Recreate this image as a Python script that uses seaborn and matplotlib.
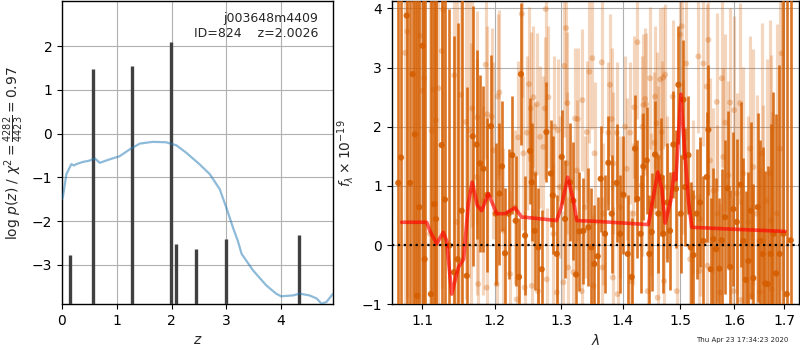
import matplotlib
matplotlib.use("Agg")
import matplotlib.pyplot as plt
import seaborn as sns
from matplotlib.ticker import FixedLocator, FixedFormatter, NullLocator

# ---------------- redshift panel ----------------
z_chi = [0.0, 0.02, 0.08, 0.17, 0.22, 0.26, 0.38, 0.5, 0.6, 0.69, 0.78, 0.87,
         1.05, 1.24, 1.42, 1.66, 1.9, 2.09, 2.27, 2.51, 2.7, 2.88, 3.0, 3.12,
         3.21, 3.28, 3.49, 3.73, 3.91, 4.0, 4.22, 4.34, 4.52, 4.65, 4.74,
         4.83, 4.95]
chi_scaled = [-1.5, -1.42, -0.93, -0.70, -0.73, -0.70, -0.65, -0.62, -0.57,
              -0.67, -0.63, -0.59, -0.52, -0.36, -0.23, -0.19, -0.20, -0.27,
              -0.44, -0.70, -0.93, -1.27, -1.69, -2.14, -2.45, -2.75, -3.13,
              -3.47, -3.66, -3.72, -3.70, -3.66, -3.70, -3.77, -3.89, -3.85,
              -3.66]

z_peaks = [0.15, 0.56, 1.27, 1.995, 2.08, 2.45, 3.0, 4.33]
logp_peaks = [-2.77, 1.48, 1.55, 2.10, -2.52, -2.64, -2.42, -2.33]

# ---------------- spectrum panel ----------------
lam_dark = [1.0687, 1.0722, 1.0796, 1.0839, 1.0873, 1.0903, 1.0933, 1.0960, 1.1004, 1.1031,
            1.1115, 1.1160, 1.1183, 1.1259, 1.1304, 1.1363, 1.1427, 1.1478, 1.1533, 1.1603,
            1.1687, 1.1743, 1.1790, 1.1838, 1.1895, 1.1947, 1.2015, 1.2068, 1.2106, 1.2150,
            1.2203, 1.2257, 1.2307, 1.2356, 1.2386, 1.2446, 1.2521, 1.2546, 1.2591, 1.2647,
            1.2698, 1.2770, 1.2836, 1.2867, 1.2929, 1.3007, 1.3059, 1.3138, 1.3190, 1.3233,
            1.3286, 1.3350, 1.3431, 1.3474, 1.3528, 1.3582, 1.3631, 1.3702, 1.3757, 1.3812,
            1.3895, 1.3951, 1.4007, 1.4081, 1.4148, 1.4205, 1.4245, 1.4302, 1.4348, 1.4406,
            1.4452, 1.4493, 1.4551, 1.4609, 1.4656, 1.4697, 1.4768, 1.4815, 1.4875, 1.4923,
            1.4965, 1.5007, 1.5055, 1.5085, 1.5146, 1.5188, 1.5237, 1.5298, 1.5359, 1.5421,
            1.5483, 1.5514, 1.5558, 1.5608, 1.5658, 1.5721, 1.5765, 1.5828, 1.5879, 1.5923,
            1.5988, 1.6052, 1.6129, 1.6180, 1.6232, 1.6278, 1.6323, 1.6376, 1.6461, 1.6508,
            1.6562, 1.6608, 1.6661, 1.6722, 1.6775, 1.6829, 1.6897, 1.6978, 1.7046, 1.7128]
flux_dark = [1.05, 1.48, 3.88, 1.05, 2.89, 1.87, -0.86, 0.64, 3.37, -0.24,
             -0.83, 0.69, 0.44, 1.69, 0.77, -0.01, -0.46, -0.24, 0.58, -0.52,
             1.84, 1.70, 1.38, 1.29, 0.85, 2.01, 0.53, 0.87, 1.33, -0.14,
             0.53, 1.52, 0.41, -0.54, 2.89, 0.16, 1.59, 1.06, 0.24, -0.04,
             -0.41, 1.91, 1.21, 0.84, -0.15, 1.49, 0.44, 1.06, 0.75, -0.50,
             0.23, 0.24, 0.30, -0.04, -0.32, -0.19, 1.12, 0.19, 1.39, 0.53,
             1.05, 0.19, 0.85, -0.15, -0.54, 1.63, 0.78, 0.19, 1.33, 1.43,
             -0.15, 0.22, 1.53, 0.53, 1.15, 0.19, 0.72, 0.24, 1.70, 0.95,
             2.71, 0.53, 2.46, 0.98, 1.52, -0.04, -0.17, 0.53, 0.72, 0.07,
             1.15, 1.95, -0.41, 0.10, -0.07, -0.40, 0.08, 0.47, 0.96, -0.37,
             0.61, 0.39, 1.02, 0.07, -0.59, -0.27, 0.58, -0.56, 0.64, 0.07,
             -0.15, -0.65, -0.66, -0.15, 0.19, -0.48, -0.15, 0.19, -0.83, 0.08]
err_dark = [5.0, 5.0, 5.0, 5.0, 5.0, 4.5, 5.0, 5.0, 5.0, 5.0,
            5.0, 4.5, 4.5, 4.0, 4.0, 4.0, 4.0, 4.0, 3.8, 3.2,
            2.2, 1.6, 1.5, 1.4, 1.3, 1.2, 1.2, 1.2, 1.1, 1.1,
            1.1, 1.0, 1.1, 1.0, 1.2, 1.0, 0.9, 1.0, 1.0, 1.0,
            1.0, 0.85, 0.9, 1.0, 1.0, 0.8, 1.0, 1.0, 1.0, 1.0,
            1.0, 0.9, 1.0, 1.0, 1.0, 1.0, 0.9, 1.0, 0.8, 1.0,
            1.0, 1.0, 1.0, 1.0, 1.0, 0.9, 1.0, 1.0, 0.9, 0.9,
            1.0, 1.0, 0.9, 1.0, 1.0, 1.0, 1.0, 1.0, 0.9, 1.0,
            1.0, 1.0, 1.0, 1.0, 1.0, 1.1, 1.1, 1.1, 1.1, 1.1,
            1.1, 1.1, 1.2, 1.2, 1.2, 1.2, 1.2, 1.3, 1.3, 1.3,
            1.3, 1.4, 1.4, 1.4, 1.5, 1.5, 1.5, 1.6, 1.6, 1.7,
            1.8, 1.9, 2.0, 2.2, 2.4, 2.7, 3.2, 4.0, 5.0, 4.5]

lam_light = [1.0774, 1.0803, 1.0970, 1.1000, 1.1026, 1.1102, 1.1125, 1.1146, 1.1183, 1.1214,
             1.1259, 1.1281, 1.1431, 1.1464, 1.1523, 1.1593, 1.1640, 1.1660, 1.1682, 1.1743,
             1.1752, 1.1765, 1.1838, 1.1871, 1.1885, 1.1894, 1.1957, 1.1981, 1.2029, 1.2044,
             1.2067, 1.2126, 1.2223, 1.2297, 1.2322, 1.2345, 1.2397, 1.2421, 1.2440, 1.2472,
             1.2506, 1.2532, 1.2546, 1.2571, 1.2590, 1.2623, 1.2640, 1.2673, 1.2723, 1.2749,
             1.2760, 1.2775, 1.2800, 1.2877, 1.2892, 1.2929, 1.2945, 1.2980, 1.3033, 1.3048,
             1.3075, 1.3085, 1.3095, 1.3110, 1.3190, 1.3217, 1.3244, 1.3260, 1.3324, 1.3334,
             1.3377, 1.3404, 1.3447, 1.3495, 1.3512, 1.3530, 1.3648, 1.3660, 1.3675, 1.3757,
             1.3785, 1.3812, 1.3830, 1.3840, 1.3897, 1.3910, 1.3951, 1.4035, 1.4064, 1.4120,
             1.4135, 1.4177, 1.4194, 1.4245, 1.4320, 1.4331, 1.4348, 1.4378, 1.4395, 1.4420,
             1.4464, 1.4480, 1.4539, 1.4551, 1.4581, 1.4595, 1.4609, 1.4639, 1.4669, 1.4697,
             1.4710, 1.4727, 1.4756, 1.4863, 1.4935, 1.4995, 1.5025, 1.5055, 1.5104, 1.5177,
             1.5237, 1.5329, 1.5345, 1.5359, 1.5421, 1.5483, 1.5495, 1.5514, 1.5545, 1.5608,
             1.5671, 1.5685, 1.5733, 1.5765, 1.5796, 1.5828, 1.5890, 1.5923, 1.5988, 1.6000,
             1.6052, 1.6116, 1.6130, 1.6180, 1.6278, 1.6311, 1.6343, 1.6376, 1.6440, 1.6508,
             1.6542, 1.6575, 1.6642, 1.6709, 1.6725, 1.6742, 1.6840, 1.6910, 1.6944]
flux_light = [3.25, 3.61, 3.54, 2.61, 2.82, 0.19, 1.93, 2.63, 2.11, 2.65,
              3.28, 3.98, 2.87, 0.39, 2.54, 2.08, 1.94, 0.92, 2.31, 1.15,
              2.16, -0.66, 0.75, 3.05, -0.72, 2.21, 2.17, 1.60, -0.66, 2.51,
              2.58, 0.24, -0.49, 0.64, -0.92, 1.82, 3.91, 1.55, -0.72, 1.90,
              2.72, 2.31, -0.69, 2.50, 1.21, 2.38, -0.78, 1.83, 1.66, 2.31,
              3.99, -0.58, 2.50, 0.19, 2.00, -0.80, 1.94, 0.98, -0.63, 3.03,
              3.67, 1.38, 2.40, -0.38, -0.46, 2.14, 1.26, 2.13, -0.78, 2.45,
              0.64, 1.91, 2.93, 3.16, -0.69, 1.55, 3.09, -0.38, 0.53, 1.90,
              2.71, 2.13, -0.55, 1.38, 1.90, -0.83, 0.64, 2.00, 1.29, 1.90,
              -0.61, 0.53, 2.33, 3.43, 1.01, 2.00, 2.37, 2.47, 2.38, -0.78,
              2.82, 0.70, 1.73, 2.51, 2.06, -0.89, 1.49, 2.80, 1.91, 2.83,
              -0.61, 2.88, 0.98, 2.51, -0.78, 3.56, 3.70, 1.49, 3.07, -0.24,
              0.81, 3.19, -0.44, 0.44, 3.07, 2.68, -0.35, 3.47, 1.43, 0.92,
              2.42, 0.53, -0.80, 2.82, 1.49, 2.07, 1.18, 2.41, -0.78, 2.28,
              0.87, 2.40, -0.93, 1.21, 0.39, 1.63, -0.86, 1.32, 0.53, -0.79,
              1.55, 0.07, 0.75, 1.21, 0.41, -0.75, 0.53, 1.63, 3.24]
err_light = [4.5, 4.5, 4.5, 4.5, 4.5, 4.5, 4.5, 4.5, 4.5, 4.0,
             4.0, 4.0, 4.0, 4.0, 3.5, 3.0, 2.5, 2.5, 2.0, 2.0,
             1.8, 1.8, 1.6, 1.6, 1.6, 1.5, 1.5, 1.5, 1.5, 1.4,
             1.4, 1.4, 1.4, 1.3, 1.3, 1.3, 1.4, 1.3, 1.3, 1.3,
             1.3, 1.3, 1.3, 1.2, 1.2, 1.2, 1.2, 1.2, 1.2, 1.2,
             1.3, 1.2, 1.2, 1.2, 1.2, 1.2, 1.2, 1.2, 1.2, 1.2,
             1.3, 1.2, 1.2, 1.2, 1.2, 1.2, 1.2, 1.2, 1.2, 1.2,
             1.2, 1.2, 1.2, 1.2, 1.2, 1.2, 1.2, 1.2, 1.2, 1.2,
             1.2, 1.2, 1.2, 1.2, 1.2, 1.2, 1.2, 1.2, 1.2, 1.2,
             1.2, 1.2, 1.2, 1.3, 1.2, 1.2, 1.2, 1.2, 1.2, 1.2,
             1.2, 1.2, 1.2, 1.2, 1.2, 1.2, 1.2, 1.2, 1.2, 1.2,
             1.2, 1.2, 1.2, 1.3, 1.3, 1.3, 1.3, 1.3, 1.3, 1.3,
             1.3, 1.3, 1.3, 1.3, 1.4, 1.4, 1.4, 1.4, 1.4, 1.4,
             1.5, 1.5, 1.5, 1.5, 1.5, 1.5, 1.6, 1.6, 1.6, 1.6,
             1.7, 1.7, 1.7, 1.8, 1.8, 1.9, 1.9, 2.0, 2.0, 2.1,
             2.2, 2.3, 2.4, 2.6, 2.8, 3.0, 3.2, 3.6, 4.0]

lam_model = [1.0730, 1.1013, 1.1058, 1.1102, 1.1192, 1.1281, 1.1327, 1.1396, 1.1487,
             1.1560, 1.1626, 1.1680, 1.1752, 1.1814, 1.1908, 1.2030, 1.2150, 1.2297,
             1.2397, 1.2446, 1.2929, 1.3000, 1.3101, 1.3191, 1.3244, 1.3566, 1.4435,
             1.4599, 1.4669, 1.4728, 1.4829, 1.4885, 1.4920, 1.5010, 1.5056, 1.5147,
             1.5208, 1.5925, 1.7013]
flux_model = [0.385, 0.385, 0.385, 0.24, 0.02, 0.215, 0.07, -0.83, -0.38,
              -0.24, 0.70, 1.065, 0.67, 0.58, 0.87, 0.53, 0.53, 0.63,
              0.47, 0.47, 0.414, 0.64, 1.15, 0.75, 0.414, 0.40, 0.346,
              1.235, 0.95, 0.37, 0.75, 1.21, 1.10, 2.55, 1.89, 0.75,
              0.30, 0.27, 0.23]

obj_text = "j003648m4409\nID=824    z=2.0026"
stamp = "Thu Apr 23 17:34:23 2020"
grism_color = "#D55E00"

sns.set_style("ticks")
plt.rcParams.update({
    "font.family": ["DejaVu Sans"],
    "font.size": 10,
    "mathtext.fontset": "dejavusans",
    "axes.edgecolor": "black",
    "axes.linewidth": 1.0,
    "xtick.color": "black",
    "ytick.color": "black",
    "xtick.direction": "out",
    "ytick.direction": "out",
    "xtick.major.size": 3.5,
    "ytick.major.size": 3.5,
    "xtick.major.width": 0.8,
    "ytick.major.width": 0.8,
    "xtick.labelsize": 10,
    "ytick.labelsize": 10,
    "grid.color": "#b0b0b0",
    "grid.linewidth": 0.8,
})

fig = plt.figure(figsize=(8, 3.5), dpi=100)

# p(z) panel
ax1 = fig.add_axes([0.0775, 0.131, 0.3388, 0.865])
ax1.vlines(z_peaks, -4.0, logp_peaks, color="0.25", lw=2.4, zorder=3)
sns.lineplot(x=z_chi, y=chi_scaled, ax=ax1, color="#1f77b4", alpha=0.5,
             linewidth=1.6, estimator=None, legend=False, zorder=4)
ax1.set_xlim(0, 4.95)
ax1.set_ylim(-3.9, 3.02)
ax1.set_xticks([0, 1, 2, 3, 4])
ax1.set_yticks([-3, -2, -1, 0, 1, 2])
ax1.grid(True)
ax1.set_xlabel(r"$z$")
ax1.set_ylabel(r"$\log\,p(z)$ / $\chi^2=\frac{4282}{4423}=0.97$")
ax1.text(0.945, 0.965, obj_text, ha="right", va="top",
         transform=ax1.transAxes, fontsize=9)

# 1D spectrum panel
ax2 = fig.add_axes([0.4896, 0.131, 0.5092, 0.865])
ax2.set_xscale("log")
ax2.errorbar(lam_light, flux_light, yerr=err_light, fmt="none",
             ecolor=grism_color, alpha=0.25, elinewidth=2.3, zorder=2)
sns.scatterplot(x=lam_light, y=flux_light, ax=ax2, color=grism_color,
                alpha=0.3, s=18, edgecolor="none", legend=False, zorder=2)
ax2.errorbar(lam_dark, flux_dark, yerr=err_dark, fmt="none",
             ecolor=grism_color, alpha=0.85, elinewidth=1.9, zorder=3)
sns.scatterplot(x=lam_dark, y=flux_dark, ax=ax2, color=grism_color,
                alpha=0.9, s=20, edgecolor="none", legend=False, zorder=3)
sns.lineplot(x=lam_model, y=flux_model, ax=ax2, color="red", alpha=0.65,
             linewidth=2.6, estimator=None, legend=False, zorder=4)
ax2.axhline(0, color="black", ls=":", lw=1.6, zorder=5)

ax2.set_xlim(1.0603, 1.730)
ax2.set_ylim(-1, 4.12)
xt = [1.1, 1.2, 1.3, 1.4, 1.5, 1.6, 1.7]
ax2.xaxis.set_major_locator(FixedLocator(xt))
ax2.xaxis.set_major_formatter(FixedFormatter([f"{v:.1f}" for v in xt]))
ax2.xaxis.set_minor_locator(NullLocator())
ax2.set_yticks([-1, 0, 1, 2, 3, 4])
ax2.grid(True)
ax2.set_xlabel(r"$\lambda$")
ax2.set_ylabel(r"$f_\lambda\times10^{-19}$")

fig.text(0.985, 0.02, stamp, ha="right", va="bottom", fontsize=5)

fig.savefig("out.png", dpi=100)
